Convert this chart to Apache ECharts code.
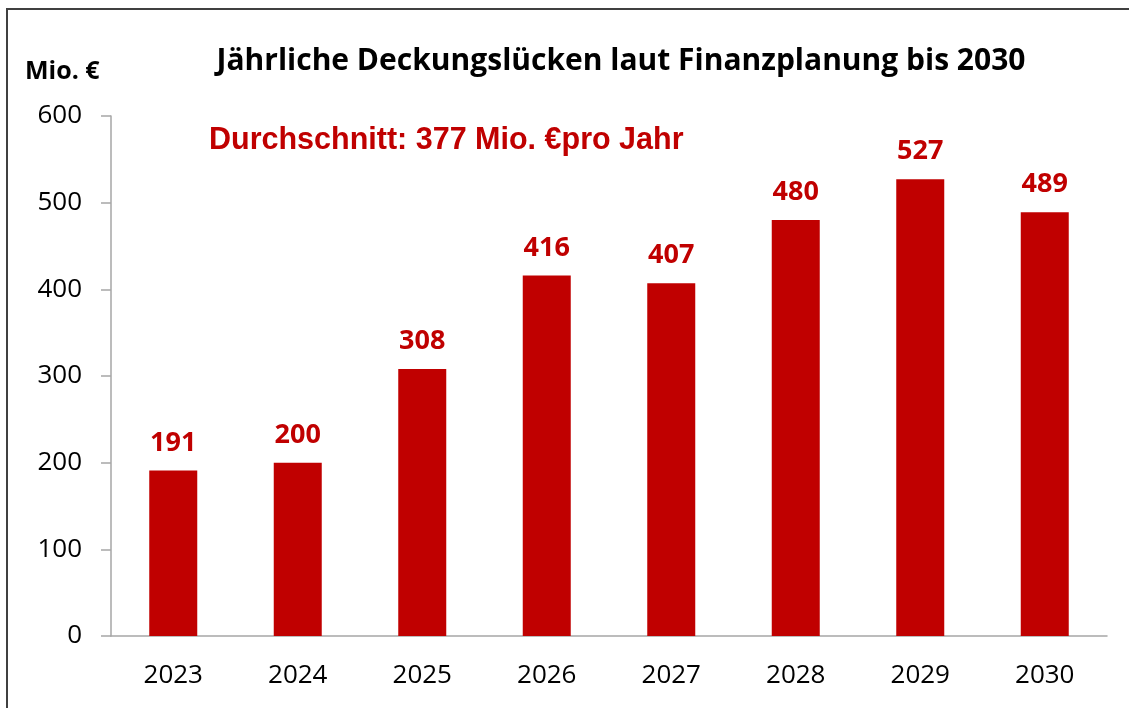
<!DOCTYPE html>
<html>
<head>
<meta charset="utf-8">
<script src="https://cdn.jsdelivr.net/npm/echarts@6/dist/echarts.min.js"></script>
<style>
  html, body { margin: 0; padding: 0; background: #fff; }
  #chart { width: 1129px; height: 708px; }
</style>
</head>
<body>
<div id="chart"></div>
<script>
// Jahre und Deckungslücken (Mio. €)
const years = ["2023", "2024", "2025", "2026", "2027", "2028", "2029", "2030"];
const gaps = [191, 200, 308, 416, 407, 480, 527, 489];
const yTicks = [0, 100, 200, 300, 400, 500, 600];

const barRed = "#c00000";
const axisGray = "#a6a6a6";
const font = "Open Sans";

const chart = echarts.init(document.getElementById("chart"));
chart.setOption({
  animation: false,
  graphic: [
    {
      // Rahmen
      type: "rect",
      shape: { x: 7, y: 9, width: 1140, height: 720 },
      style: { fill: null, stroke: "#404040", lineWidth: 2 }
    },
    {
      type: "text",
      x: 621,
      y: 61,
      style: {
        text: "Jährliche Deckungslücken laut Finanzplanung bis 2030",
        align: "center", verticalAlign: "middle",
        fontFamily: font, fontWeight: "bold", fontSize: 30, fill: "#000"
      }
    },
    {
      type: "text",
      x: 25,
      y: 72,
      style: {
        text: "Mio. €", verticalAlign: "middle",
        fontFamily: font, fontWeight: "bold", fontSize: 25, fill: "#000"
      }
    },
    {
      type: "text",
      x: 209,
      y: 141,
      style: {
        text: "Durchschnitt: 377 Mio. €pro Jahr", verticalAlign: "middle",
        fontFamily: "Liberation Sans", fontWeight: "bold", fontSize: 30.5, fill: barRed
      }
    }
  ],
  grid: { left: 111, right: 22, top: 116, bottom: 72 },
  xAxis: {
    type: "category",
    data: years,
    axisLine: { lineStyle: { color: axisGray, width: 1.5 } },
    axisTick: { length: 10, lineStyle: { color: axisGray, width: 1.5 } },
    axisLabel: { color: "#000", fontFamily: font, fontSize: 26, margin: 27 }
  },
  yAxis: {
    type: "value",
    min: yTicks[0],
    max: yTicks[yTicks.length - 1],
    interval: 100,
    splitLine: { show: false },
    axisLine: { show: true, lineStyle: { color: axisGray, width: 1.5 } },
    axisTick: { show: true, length: 10, lineStyle: { color: axisGray, width: 1.5 } },
    axisLabel: { color: "#000", fontFamily: font, fontSize: 26, margin: 29 }
  },
  series: [
    {
      type: "bar",
      data: gaps,
      barWidth: 48,
      itemStyle: { color: barRed },
      label: {
        show: true,
        position: "top",
        distance: 14,
        color: barRed,
        fontFamily: font,
        fontWeight: "bold",
        fontSize: 27
      }
    }
  ]
});
</script>
</body>
</html>
